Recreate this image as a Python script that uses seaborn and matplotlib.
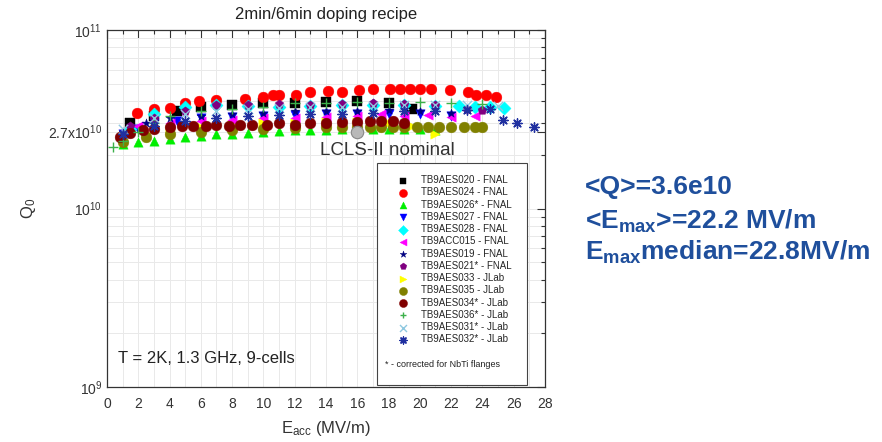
import numpy as np
import pandas as pd
import matplotlib
matplotlib.use("Agg")
import matplotlib.pyplot as plt
import matplotlib.ticker as mticker
from matplotlib.patches import Rectangle
import seaborn as sns

# series labels, colours and markers (legend order)
labels = ["TB9AES020 - FNAL", "TB9AES024 - FNAL", "TB9AES026* - FNAL", "TB9AES027 - FNAL",
          "TB9AES028 - FNAL", "TB9ACC015 - FNAL", "TB9AES019 - FNAL", "TB9AES021* - FNAL",
          "TB9AES033 - JLab", "TB9AES035 - JLab", "TB9AES034* - JLab", "TB9AES036* - JLab",
          "TB9AES031* - JLab", "TB9AES032* - JLab"]
colors = ["#000000", "#ff0000", "#00ee00", "#0000ff", "#00ffff", "#ff00ff", "#000080",
          "#800080", "#ffff00", "#808000", "#800000", "#3cb04a", "#8ec8e0", "#2030a0"]
markers = ["s", "o", "^", "v", "D", "<", "*", "p", ">", "o", "o", "+", "x", (8, 2, 0)]

# E_acc (MV/m) and Q0 (units of 1e10)
e020 = [1.5, 3.0, 4.5, 6.0, 8.0, 10.0, 12.0, 14.0, 16.0, 18.0, 19.5]
q020 = [3.0, 3.3, 3.5, 3.7, 3.8, 3.9, 3.9, 3.95, 4.0, 3.9, 3.6]
e024 = [1.9, 3.0, 4.0, 5.0, 5.9, 7.0, 8.8, 10.0, 10.6, 11.0, 12.1, 13.0, 14.1, 15.0, 16.1,
        17.0, 18.1, 18.7, 19.4, 20.0, 20.7, 21.9, 23.1, 23.6, 24.2, 24.9]
q024 = [3.45, 3.6, 3.65, 3.9, 4.0, 4.05, 4.1, 4.2, 4.35, 4.3, 4.35, 4.5, 4.55, 4.5, 4.6,
        4.65, 4.7, 4.7, 4.7, 4.7, 4.65, 4.6, 4.5, 4.35, 4.3, 4.2]
e026 = [1.0, 2.0, 3.0, 4.0, 5.0, 6.0, 7.0, 8.0, 9.0, 10.0, 11.0, 12.0, 13.0, 14.0, 15.0,
        16.0, 17.0, 18.0, 19.0, 20.0, 21.0]
q026 = [2.3, 2.35, 2.4, 2.45, 2.5, 2.55, 2.6, 2.62, 2.65, 2.7, 2.72, 2.75, 2.75, 2.75, 2.78,
        2.78, 2.8, 2.8, 2.8, 2.8, 2.75]
e027 = [1.0, 2.0, 3.0, 4.5, 6.0, 8.0, 10.0, 12.0, 14.0, 16.0, 18.0, 20.0, 22.0]
q027 = [2.6, 2.8, 3.0, 3.1, 3.2, 3.25, 3.3, 3.35, 3.4, 3.4, 3.4, 3.4, 3.3]
e028 = [1.5, 3.0, 5.0, 7.0, 9.0, 11.0, 13.0, 15.0, 17.0, 19.0, 21.0, 22.5, 23.5, 24.5, 25.4]
q028 = [2.8, 3.4, 3.7, 3.8, 3.75, 3.7, 3.75, 3.8, 3.8, 3.8, 3.75, 3.75, 3.7, 3.7, 3.65]
e015 = [2.0, 4.0, 6.0, 8.0, 10.0, 12.0, 14.0, 16.0, 17.5, 19.0, 20.5, 22.0, 23.5]
q015 = [2.9, 3.0, 3.1, 3.15, 3.2, 3.2, 3.25, 3.3, 3.4, 3.3, 3.35, 3.25, 3.3]
e019 = [1.0, 2.5, 4.0, 6.0, 8.0, 10.0, 12.0, 14.0, 16.0, 18.0, 20.0, 22.0]
q019 = [2.7, 3.0, 3.2, 3.3, 3.4, 3.45, 3.5, 3.5, 3.5, 3.55, 3.5, 3.45]
e021 = [1.5, 3.0, 5.0, 7.0, 9.0, 11.0, 13.0, 15.0, 17.0, 19.0, 21.0, 23.0, 24.0]
q021 = [2.9, 3.2, 3.5, 3.8, 3.8, 3.85, 3.8, 3.85, 3.9, 3.85, 3.8, 3.6, 3.55]
e033 = [1.0, 2.5, 4.0, 6.0, 8.0, 10.0, 12.0, 14.0, 16.0, 18.0, 19.5, 21.0]
q033 = [2.5, 2.65, 2.75, 2.85, 2.95, 3.0, 3.0, 3.05, 3.05, 3.0, 2.9, 2.6]
e035 = [1.0, 2.5, 4.0, 6.0, 8.0, 10.0, 12.0, 14.0, 15.0, 16.0, 16.8, 17.5, 18.3, 19.0,
        19.8, 20.5, 21.2, 22.0, 22.8, 23.5, 24.0]
q035 = [2.35, 2.5, 2.6, 2.7, 2.75, 2.8, 2.82, 2.85, 2.85, 2.85, 2.85, 2.85, 2.85, 2.85,
        2.85, 2.85, 2.85, 2.85, 2.85, 2.85, 2.85]
e034 = [0.8, 1.5, 2.3, 3.0, 4.0, 4.8, 5.5, 6.3, 7.0, 7.8, 8.5, 9.3, 10.2, 11.0, 12.0,
        13.0, 14.0, 15.0, 16.0, 16.8, 17.5, 18.3, 19.0]
q034 = [2.5, 2.65, 2.75, 2.8, 2.85, 2.9, 2.9, 2.9, 2.95, 2.9, 2.95, 2.95, 2.95, 3.0, 2.95,
        3.0, 3.0, 3.05, 3.05, 3.1, 3.1, 3.1, 3.0]
e036 = [0.4, 1.0, 2.0, 3.0, 4.0, 6.0, 8.0, 10.0, 12.0, 14.0, 16.0, 18.0, 20.0, 22.0, 24.0]
q036 = [2.2, 2.4, 2.7, 3.0, 3.3, 3.5, 3.6, 3.7, 3.9, 3.9, 3.95, 3.9, 3.95, 3.9, 3.85]
e031 = [1.0, 3.0, 5.0, 7.0, 9.0, 11.0, 13.0, 15.0, 17.0, 19.0, 21.0, 23.0, 25.0]
q031 = [2.8, 3.2, 3.4, 3.5, 3.6, 3.65, 3.7, 3.7, 3.75, 3.8, 3.8, 3.8, 3.75]
e032 = [1.0, 3.0, 5.0, 7.0, 9.0, 11.0, 13.0, 15.0, 17.0, 19.0, 21.0, 23.0, 24.5, 25.3,
        26.2, 27.3]
q032 = [2.6, 2.9, 3.1, 3.2, 3.3, 3.35, 3.4, 3.4, 3.45, 3.5, 3.5, 3.55, 3.6, 3.15, 3.0, 2.88]

e_data = [e020, e024, e026, e027, e028, e015, e019, e021, e033, e035, e034, e036, e031, e032]
q_data = [q020, q024, q026, q027, q028, q015, q019, q021, q033, q035, q034, q036, q031, q032]

lcls_e = [16.0]
lcls_q = [2.7]

sns.set_style("white")
plt.rcParams["font.family"] = ["Liberation Sans", "DejaVu Sans"]
plt.rcParams["mathtext.fontset"] = "custom"
plt.rcParams["mathtext.rm"] = "Liberation Sans"
plt.rcParams["mathtext.it"] = "Liberation Sans"
plt.rcParams["mathtext.bf"] = "Liberation Sans:bold"

fig = plt.figure(figsize=(8.82, 4.42), dpi=100)
ax = fig.add_axes([0.1213, 0.1244, 0.4966, 0.8077])

for lab, col, mk, ev, qv in zip(labels, colors, markers, e_data, q_data):
    df = pd.DataFrame({"E": ev, "Q": np.array(qv) * 1e10})
    if mk in ["+", "x"] or isinstance(mk, tuple):
        sns.scatterplot(data=df, x="E", y="Q", marker=mk, color=col, s=45, linewidth=1.0,
                        ax=ax, label=lab, zorder=3)
    else:
        size = 60 if col in ["#ff0000", "#800000", "#808000"] else 45
        sns.scatterplot(data=df, x="E", y="Q", marker=mk, color=col, s=size,
                        edgecolor=col, linewidth=0.3, ax=ax, label=lab, zorder=3)

lcls = pd.DataFrame({"E": lcls_e, "Q": np.array(lcls_q) * 1e10})
sns.scatterplot(data=lcls, x="E", y="Q", marker="o", color="#b8b8b8", edgecolor="#888888",
                s=80, linewidth=0.8, ax=ax, zorder=4, legend=False)
ax.text(17.9, 2.11e10, "LCLS-II nominal", ha="center", va="center", fontsize=13.5,
        color="#333333")

ax.set_yscale("log")
ax.set_xlim(0, 28)
ax.set_ylim(1e9, 1e11)
ax.xaxis.set_major_locator(mticker.MultipleLocator(2))
ax.xaxis.set_minor_locator(mticker.MultipleLocator(1))
ax.yaxis.set_major_locator(mticker.FixedLocator([1e9, 1e10, 2.7e10, 1e11]))
ax.yaxis.set_major_formatter(mticker.FixedFormatter(
    [r"$10^{9}$", r"$10^{10}$", r"2.7x$10^{10}$", r"$10^{11}$"]))
ax.yaxis.set_minor_locator(mticker.LogLocator(base=10, subs=np.arange(2, 10)))
ax.yaxis.set_minor_formatter(mticker.NullFormatter())
ax.grid(True, which="both", color="#e9e9e9", linewidth=0.7, zorder=0)
ax.set_axisbelow(True)
ax.tick_params(which="both", direction="in", top=True, right=True, colors="#333333",
               labelsize=10)
ax.tick_params(axis="x", pad=7)
ax.tick_params(which="major", length=6, width=0.8)
ax.tick_params(which="minor", length=3, width=0.8)
for sp in ax.spines.values():
    sp.set_color("#333333")
    sp.set_linewidth(0.9)

ax.set_xlabel(r"E$_{acc}$ (MV/m)", fontsize=12, color="#333333", labelpad=6)
ax.set_ylabel(r"Q$_0$", fontsize=12, color="#333333", labelpad=7)
ax.set_title("2min/6min doping recipe", fontsize=12, color="#222222", pad=8)
ax.text(0.025, 0.081, "T = 2K, 1.3 GHz, 9-cells", transform=ax.transAxes, fontsize=12,
        color="#222222", va="center")

# legend box with footnote
box = Rectangle((0.616, 0.005), 0.343, 0.622, transform=ax.transAxes, facecolor="white",
                edgecolor="#444444", linewidth=0.8, zorder=5, clip_on=False)
ax.add_patch(box)
leg = ax.legend(loc="upper left", bbox_to_anchor=(0.635, 0.615), frameon=False, fontsize=7,
                labelspacing=0.23, handletextpad=0.9, borderpad=0.3, markerscale=0.75)
leg.set_zorder(6)
ax.text(0.635, 0.062, "* - corrected for NbTi flanges", transform=ax.transAxes, fontsize=6.5,
        color="#222222", zorder=7, va="center")

blue = "#1f4f9c"
fig.text(0.663, 0.578, "<Q>=3.6e10", fontsize=19, fontweight="bold", color=blue, va="center")
fig.text(0.663, 0.499, r"<$\mathbf{E_{max}}$>=22.2 MV/m", fontsize=19, fontweight="bold",
         color=blue, va="center")
fig.text(0.663, 0.429, r"$\mathbf{E_{max}}$median=22.8MV/m", fontsize=19, fontweight="bold",
         color=blue, va="center")

fig.savefig("out.png", dpi=100)
